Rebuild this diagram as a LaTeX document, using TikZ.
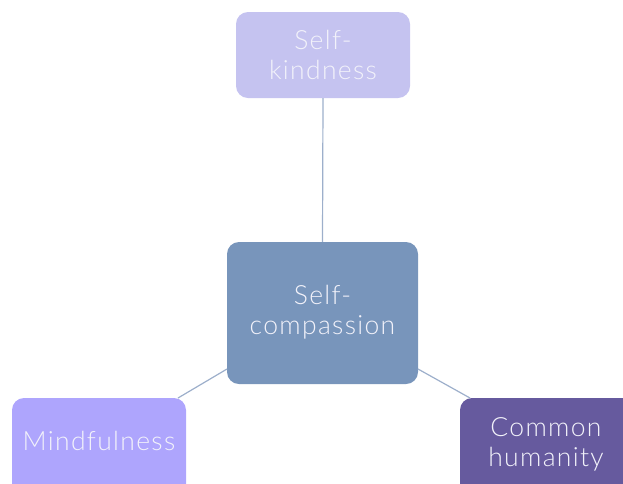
\documentclass[tikz,border=0pt]{standalone}
\usepackage{fontspec}
\setmainfont{Lato}[UprightFont=* Light,LetterSpace=5]
\definecolor{topc}{HTML}{C5C3F0}
\definecolor{midc}{HTML}{7895BB}
\definecolor{leftc}{HTML}{AEA5FD}
\definecolor{rightc}{HTML}{665A9E}
\definecolor{linec}{HTML}{9DAFCB}
\definecolor{txtc}{HTML}{F2F2FA}
\begin{document}
\begin{tikzpicture}[x=1pt,y=-1pt,
  lbl/.style={text=txtc,align=center,font=\fontsize{26.5}{30}\selectfont,inner sep=0pt},
  box/.style={rounded corners=12pt,draw=none,inner sep=0pt},
  conn/.style={draw=linec,line width=1.2pt}]
\useasboundingbox (0,0) rectangle (623,483);
\begin{scope}
\clip (0,0) rectangle (623,483);
\node[box,fill=topc,minimum width=174pt,minimum height=86pt] (sk) at (323,55) {};
\node[lbl] (skt) at (323,55) {Self-\\kindness};
\node[box,fill=midc,minimum width=191pt,minimum height=142pt] (sc) at (322.5,313) {};
\node[lbl] (sct) at (322.5,312) {Self-\\compassion};
\node[box,fill=leftc,minimum width=174pt,minimum height=100pt] (mf) at (99,448) {};
\node[lbl] (mft) at (99,441) {Mindfulness};
\node[box,fill=rightc,minimum width=174pt,minimum height=100pt] (ch) at (547,448) {};
\node[lbl] (cht) at (546,444) {Common\\humanity};
\end{scope}
\draw[conn] (sk.south) -- (sc.north);
\draw[conn] (227,369) -- (178,398);
\draw[conn] (418,369) -- (470,398);
\end{tikzpicture}
\end{document}
